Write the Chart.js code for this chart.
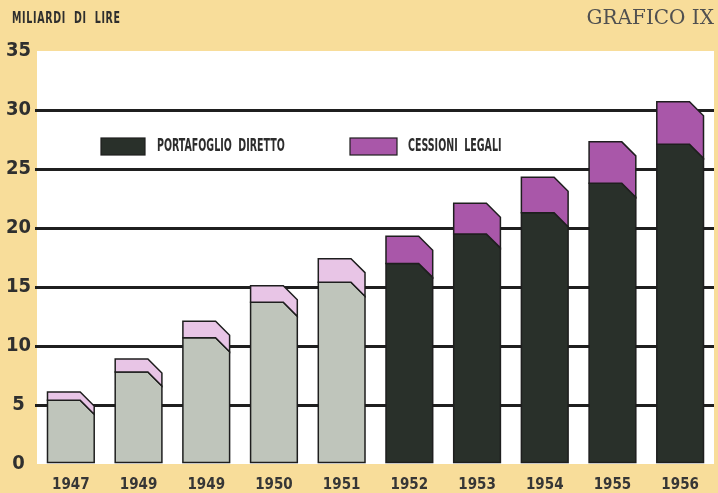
<!DOCTYPE html>
<html>
<head>
<meta charset="utf-8">
<script src="https://cdn.jsdelivr.net/npm/chart.js@4.4.0/dist/chart.umd.min.js"></script>
<style>
    html, body { margin: 0; padding: 0; background: #f8dd9a; }
    #wrap { position: relative; width: 718px; height: 493px; overflow: hidden; }
    #chart { position: absolute; left: 0; top: 0; }
    .unit {
        position: absolute; left: 12px; top: 9px;
        font: bold 15px "Liberation Sans Narrow", "DejaVu Sans Condensed", sans-serif;
        color: #2e2e2e; letter-spacing: 1px;
        transform: scaleX(0.7); transform-origin: left top; white-space: nowrap;
    }
    .tag {
        position: absolute; right: 4px; top: 5px;
        font: 20px "DejaVu Serif", serif; color: #505050; white-space: nowrap;
    }
</style>
</head>
<body>
<div id="wrap">
    <canvas id="chart" width="718" height="493"></canvas>
    <div class="unit">MILIARDI&nbsp; DI&nbsp; LIRE</div>
    <div class="tag">GRAFICO IX</div>
</div>
<script>
// Values (miliardi di lire)
const years = ['1947', '1949', '1949', '1950', '1951', '1952', '1953', '1954', '1955', '1956'];
const portafoglio = [5.4, 7.8, 10.7, 13.7, 15.4, 17.0, 19.5, 21.3, 23.8, 27.1];
const cessioni = [0.7, 1.1, 1.4, 1.4, 2.0, 2.3, 2.6, 3.0, 3.5, 3.6];
const firstDark = 5; // bars from 1952 on are printed dark

// Colours
const lightBase = '#bfc5bb';
const lightTop = '#e8c5e6';
const darkBase = '#29302a';
const darkTop = '#a957a9';
const outline = '#1e1e1e';
const condensed = '"Liberation Sans Narrow", "DejaVu Sans Condensed", sans-serif';

// Paper, white plotting field, bevelled bars and the inner legend
const bevelBars = {
    id: 'bevelBars',
    beforeDraw(chart) {
        const { ctx, chartArea: a } = chart;
        ctx.save();
        ctx.fillStyle = '#f8dd9a';
        ctx.fillRect(0, 0, chart.width, chart.height);
        ctx.fillStyle = '#ffffff';
        ctx.fillRect(a.left, a.top, a.right - a.left, a.bottom - a.top);
        ctx.restore();
    },
    afterDatasetsDraw(chart) {
        const ctx = chart.ctx;
        const low = chart.getDatasetMeta(0).data;
        const high = chart.getDatasetMeta(1).data;
        const b = 14;
        ctx.save();
        ctx.lineWidth = 1.5;
        ctx.strokeStyle = outline;
        ctx.lineJoin = 'miter';
        low.forEach((bar, i) => {
            const left = bar.x - bar.width / 2;
            const right = bar.x + bar.width / 2;
            const base = bar.base;
            const yl = bar.y;
            const yh = high[i].y;
            const dark = i >= firstDark;

            // portafoglio diretto
            ctx.beginPath();
            ctx.moveTo(left, base);
            ctx.lineTo(left, yl);
            ctx.lineTo(right - b, yl);
            ctx.lineTo(right, yl + b);
            ctx.lineTo(right, base);
            ctx.closePath();
            ctx.fillStyle = dark ? darkBase : lightBase;
            ctx.fill();
            ctx.stroke();

            // cessioni legali
            ctx.beginPath();
            ctx.moveTo(left, yl);
            ctx.lineTo(left, yh);
            ctx.lineTo(right - b, yh);
            ctx.lineTo(right, yh + b);
            ctx.lineTo(right, yl + b);
            ctx.lineTo(right - b, yl);
            ctx.closePath();
            ctx.fillStyle = dark ? darkTop : lightTop;
            ctx.fill();
            ctx.stroke();
        });

        // legend inside the field
        const a = chart.chartArea;
        const items = [
            { label: chart.data.datasets[0].label, color: darkBase, x: a.left + 64, w: 44, tx: a.left + 120 },
            { label: chart.data.datasets[1].label, color: darkTop, x: a.left + 313, w: 47, tx: a.left + 371 }
        ];
        const ly = a.top + 87;
        items.forEach(it => {
            ctx.fillStyle = it.color;
            ctx.lineWidth = 1.2;
            ctx.fillRect(it.x, ly, it.w, 17);
            ctx.strokeRect(it.x, ly, it.w, 17);
            ctx.save();
            ctx.translate(it.tx, ly + 9);
            ctx.scale(0.62, 1);
            ctx.fillStyle = '#2c2c2c';
            ctx.font = 'bold 17px ' + condensed;
            ctx.textBaseline = 'middle';
            ctx.fillText(it.label.split(' ').join('  '), 0, 0);
            ctx.restore();
        });
        ctx.restore();
    }
};

new Chart(document.getElementById('chart'), {
    type: 'bar',
    data: {
        labels: years,
        datasets: [
            {
                label: 'PORTAFOGLIO DIRETTO',
                data: portafoglio,
                backgroundColor: 'rgba(0,0,0,0)',
                borderWidth: 0
            },
            {
                label: 'CESSIONI LEGALI',
                data: cessioni,
                backgroundColor: 'rgba(0,0,0,0)',
                borderWidth: 0
            }
        ]
    },
    options: {
        responsive: false,
        devicePixelRatio: 1,
        animation: false,
        layout: {
            padding: { top: 51, right: 4, bottom: 0, left: 0 }
        },
        datasets: {
            bar: { barPercentage: 0.69, categoryPercentage: 1 }
        },
        scales: {
            x: {
                stacked: true,
                grid: { display: false, drawTicks: false },
                border: { display: false },
                ticks: {
                    color: '#363636',
                    padding: 12,
                    font: { family: condensed, size: 15, weight: 'bold' }
                },
                afterFit: scale => { scale.height = 29; }
            },
            y: {
                stacked: true,
                min: 0,
                max: 35,
                grid: {
                    color: c => (c.tick.value === 0 || c.tick.value === 35) ? 'rgba(0,0,0,0)' : '#1f1f1f',
                    lineWidth: 3,
                    tickLength: 2
                },
                border: { display: false },
                ticks: {
                    stepSize: 5,
                    color: '#2f2f2f',
                    padding: 4,
                    crossAlign: 'center',
                    font: { family: condensed, size: 20, weight: 'bold' }
                },
                afterFit: scale => { scale.width = 37; }
            }
        },
        plugins: {
            legend: { display: false },
            tooltip: { enabled: false }
        }
    },
    plugins: [bevelBars]
});
</script>
</body>
</html>
